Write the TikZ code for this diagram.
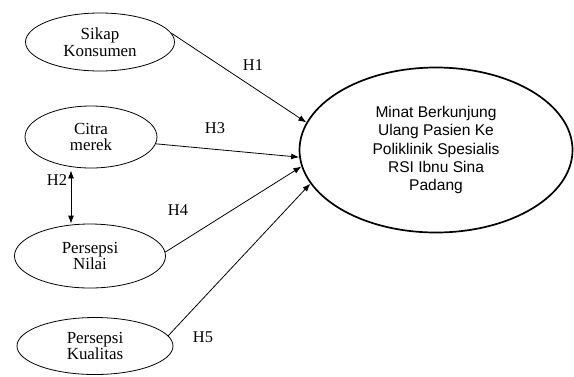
\documentclass[tikz,border=0pt]{standalone}
\usepackage{fontspec}
\setmainfont{Liberation Serif}
\newfontfamily\arialfont{Liberation Sans}
\usetikzlibrary{shapes.geometric, arrows.meta}

\tikzset{
  varbox/.style={ellipse, draw, line width=0.8bp, inner sep=0pt, align=center,
    font=\fontsize{17}{16.8}\selectfont},
  mainbox/.style={ellipse, draw, line width=1.7bp, inner sep=0pt, align=center,
    minimum width=273bp, minimum height=165bp,
    font=\arialfont\fontsize{15.6}{18.3}\selectfont},
  hyp/.style={font=\fontsize{16.5}{16}\selectfont},
  link/.style={-{Latex[length=8bp, width=6bp]}, line width=0.8bp}
}

\begin{document}
\begin{tikzpicture}[x=1bp, y=-1bp]
        \useasboundingbox (0,0) rectangle (574,376);

        \node [mainbox] (minat) at (436,150)
          {Minat Berkunjung\\Ulang Pasien Ke\\Poliklinik Spesialis\\RSI Ibnu Sina\\Padang};

        \node [varbox, minimum width=149bp, minimum height=58bp] (sikap) at (100,42) {Sikap\\Konsumen};
        \node [varbox, minimum width=132bp, minimum height=62bp] (citra) at (91,137) {Citra\\merek};
        \node [varbox, minimum width=151bp, minimum height=64bp] (nilai) at (90,256) {Persepsi\\Nilai};
        \node [varbox, minimum width=156bp, minimum height=57bp] (kualitas) at (95,346) {Persepsi\\Kualitas};

        \draw [link] (sikap.7) -- (minat.168);
        \draw [link] (citra.354) -- (minat.183);
        \draw [link] (nilai.3) -- (minat.187);
        \draw [link] (kualitas.8) -- (minat.195);

        \coordinate (h2top) at ([xshift=-20bp, yshift=-2bp]citra.south);
        \draw [link, {Latex[length=8bp, width=6bp]}-{Latex[length=8bp, width=6bp]}]
          (h2top) -- (h2top |- nilai.north);

        \node [hyp] (h1) at (253,65) {H1};
        \node [hyp] (h2) at (57,180) {H2};
        \node [hyp] (h3) at (215,128) {H3};
        \node [hyp] (h4) at (178,210) {H4};
        \node [hyp] (h5) at (203,337) {H5};
      \end{tikzpicture}
\end{document}
